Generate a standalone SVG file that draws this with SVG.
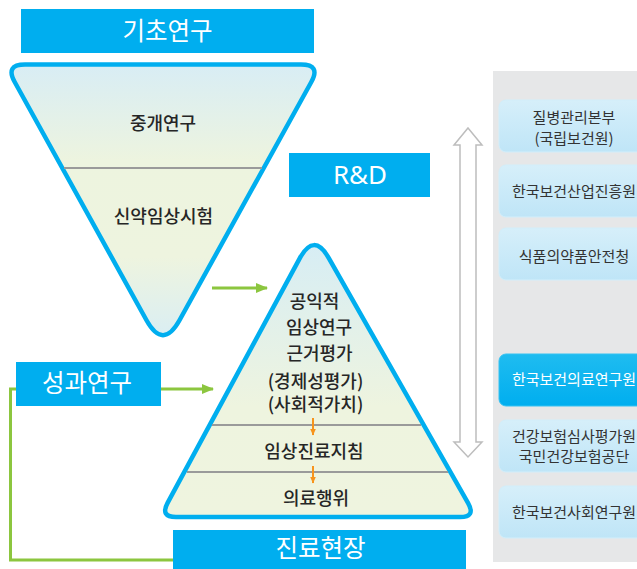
<svg xmlns="http://www.w3.org/2000/svg" width="637" height="569" viewBox="0 0 637 569">
<defs>
<linearGradient id="gInv" x1="0" y1="64" x2="0" y2="340" gradientUnits="userSpaceOnUse">
<stop offset="0" stop-color="#D8EDF5"/>
<stop offset="0.35" stop-color="#EDF4DF"/>
<stop offset="0.7" stop-color="#EEF4DF"/>
<stop offset="1" stop-color="#D9EEF4"/>
</linearGradient>
<linearGradient id="gPyr" x1="0" y1="240" x2="0" y2="517" gradientUnits="userSpaceOnUse">
<stop offset="0" stop-color="#D6EDF5"/>
<stop offset="0.6" stop-color="#EEF4DF"/>
<stop offset="1" stop-color="#EFF4DF"/>
</linearGradient>
<linearGradient id="gBox" x1="0" y1="0" x2="0" y2="1">
<stop offset="0" stop-color="#D6EFFA"/>
<stop offset="1" stop-color="#BFE5F7"/>
</linearGradient>
<linearGradient id="gBoxHi" x1="0" y1="0" x2="0" y2="1">
<stop offset="0" stop-color="#1FBCF0"/>
<stop offset="1" stop-color="#00AEEF"/>
</linearGradient>
<marker id="mGreen" viewBox="0 0 12 10" refX="11" refY="5" markerWidth="12" markerHeight="10" markerUnits="userSpaceOnUse" orient="auto">
<path d="M0,0 L12,5 L0,10 Z" fill="#8CC63F"/>
</marker>
<marker id="mOrange" viewBox="0 0 8 7" refX="7.5" refY="3.5" markerWidth="8" markerHeight="7" markerUnits="userSpaceOnUse" orient="auto">
<path d="M0,0 L8,3.5 L0,7 Z" fill="#F7941D"/>
</marker>
<marker id="mOrangeS" viewBox="0 0 7 6" refX="6.5" refY="3" markerWidth="7" markerHeight="6" markerUnits="userSpaceOnUse" orient="auto">
<path d="M0,0 L7,3 L0,6 Z" fill="#F7941D"/>
</marker>
</defs>
<style>
.kr{font-family:"Noto Sans CJK KR","Noto Sans",sans-serif;text-anchor:middle;}
.hdr{fill:#00AEEF;}
.hdrT{fill:#FFFFFF;font-size:24.5px;}
.body{fill:#262626;font-size:18px;font-weight:500;}
.box{fill:url(#gBox);stroke:#D2EEFA;stroke-width:1;}
.boxT{fill:#333333;font-size:15px;}
.div{stroke:#9A9A9A;stroke-width:2;}
.green{stroke:#8CC63F;stroke-width:3;fill:none;}
.orange{stroke:#F7941D;stroke-width:2;fill:none;}
.shape{stroke:#00AEEF;stroke-width:4.5;stroke-linejoin:round;}
</style>

<rect x="493" y="71" width="144" height="491" fill="#E6E7E8"/>

<g id="connectors">
<line class="orange" x1="40" y1="96" x2="70" y2="150" marker-end="url(#mOrange)"/>
<line class="orange" x1="293" y1="96" x2="263" y2="150" marker-end="url(#mOrange)"/>
<line class="green" x1="212" y1="288" x2="267" y2="288" marker-end="url(#mGreen)"/>
<polyline class="green" points="175,560 10.5,560 10.5,389 20,389"/>
<line class="green" x1="158" y1="389" x2="213" y2="389" marker-end="url(#mGreen)"/>
<path d="M468,128 L482,145 L476,145 L476,442 L482,442 L468,457 L454,442 L460,442 L460,145 L454,145 Z" fill="#FFFFFF" stroke="#BDBDBD" stroke-width="1.5" stroke-linejoin="miter"/>
</g>

<g id="node-basic">
<rect class="hdr" x="21" y="9" width="293" height="44"/>
<text class="kr hdrT" x="167.5" y="39.5">기초연구</text>
</g>

<g id="node-inverted">
<path class="shape" fill="url(#gInv)" d="M25,64.5 L301,64.5 Q321,64.5 311.3,82 L179.5,320.25 Q163,350 146.5,320.25 L14.7,82 Q5,64.5 25,64.5 Z"/>
<line class="div" x1="64" y1="168" x2="262" y2="168"/>
<text class="kr body" x="163" y="129.5">중개연구</text>
<text class="kr body" x="163.5" y="222.5">신약임상시험</text>
</g>

<g id="node-rd">
<rect class="hdr" x="289" y="153" width="141" height="44"/>
<text x="360" y="184" fill="#FFFFFF" font-family="'Noto Sans',sans-serif" font-size="26" text-anchor="middle">R&amp;D</text>
</g>

<g id="node-pyramid">
<path class="shape" fill="url(#gPyr)" d="M299.7,258.4 Q314,232 328.8,258.1 L468.1,503.1 Q476,517 460,517 L176,517 Q160,517 167.6,502.9 Z"/>
<line class="div" x1="212" y1="425" x2="421" y2="425"/>
<line class="div" x1="187" y1="472" x2="448" y2="472"/>
<line class="orange" stroke-width="1.6" x1="313" y1="418" x2="313" y2="435" marker-end="url(#mOrangeS)"/>
<line class="orange" stroke-width="1.6" x1="313" y1="466" x2="313" y2="483" marker-end="url(#mOrangeS)"/>
<text class="kr body" x="314.5" y="307.5">공익적</text>
<text class="kr body" x="319" y="333.5">임상연구</text>
<text class="kr body" x="319.5" y="359.5">근거평가</text>
<text class="kr body" x="315.5" y="387.5">(경제성평가)</text>
<text class="kr body" x="315.5" y="411">(사회적가치)</text>
<text class="kr body" x="314" y="458">임상진료지침</text>
<text class="kr body" x="316" y="504.5" font-size="20">의료행위</text>
</g>

<g id="node-outcome">
<rect class="hdr" x="16" y="362" width="145" height="44"/>
<text class="kr hdrT" x="87" y="391.5">성과연구</text>
</g>

<g id="node-practice">
<rect class="hdr" x="173" y="530" width="293" height="39"/>
<text class="kr hdrT" x="320.5" y="556.5">진료현장</text>
</g>

<g id="node-kcdc">
<rect class="box" x="499" y="100" width="150" height="52" rx="7"/>
<text class="kr boxT" x="574" y="123.4">질병관리본부</text>
<text class="kr boxT" x="574" y="144.4">(국립보건원)</text>
</g>
<g id="node-khidi">
<rect class="box" x="499" y="165" width="150" height="52" rx="7"/>
<text class="kr boxT" x="574" y="197.4">한국보건산업진흥원</text>
</g>
<g id="node-kfda">
<rect class="box" x="499" y="228" width="150" height="52" rx="7"/>
<text class="kr boxT" x="574" y="262.4">식품의약품안전청</text>
</g>
<g id="node-neca">
<rect x="499" y="354" width="150" height="52" rx="7" fill="url(#gBoxHi)" stroke="#35C2F2" stroke-width="1"/>
<text class="kr boxT" x="574" y="385.4" style="fill:#FFFFFF">한국보건의료연구원</text>
</g>
<g id="node-hira">
<rect class="box" x="499" y="420" width="150" height="52" rx="7"/>
<text class="kr boxT" x="574" y="442.4">건강보험심사평가원</text>
<text class="kr boxT" x="574" y="462.4">국민건강보험공단</text>
</g>
<g id="node-kihasa">
<rect class="box" x="499" y="486" width="150" height="52" rx="7"/>
<text class="kr boxT" x="574" y="518.4">한국보건사회연구원</text>
</g>
</svg>
